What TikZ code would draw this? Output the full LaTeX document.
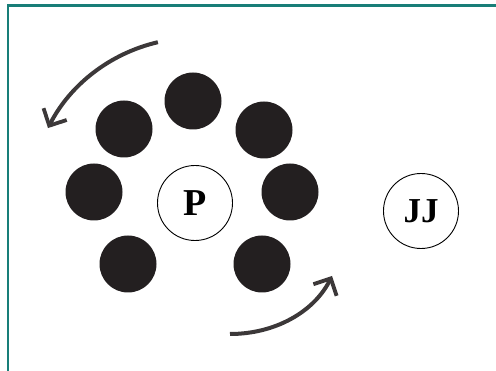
\documentclass[tikz,border=0pt]{standalone}
\usepackage{fontspec}
\setmainfont{Liberation Serif}
\usepackage{xcolor}
\usepackage{tikz}
\usetikzlibrary{arrows.meta, positioning}
\definecolor{frameteal}{RGB}{24,126,120}
\definecolor{balldark}{RGB}{35,31,32}
\definecolor{arrowgray}{RGB}{60,56,57}
\tikzset{
  ball/.style={circle, fill=balldark, draw=none, minimum size=57pt, inner sep=0pt},
  ring/.style={circle, draw=black, line width=0.9pt, fill=white,
    minimum size=75pt, inner sep=0pt, font=\fontsize{38}{38}\selectfont\bfseries},
  spin/.style={-{Straight Barb[length=13pt, width=26pt, line width=3.8pt]},
    line width=4pt, color=arrowgray}
}

\begin{document}
\begin{tikzpicture}[x=1pt, y=1pt]
  \useasboundingbox (0,0) rectangle (496,-371);

  % Frame (top and left edges only)
  \draw[frameteal, line width=2.2pt] (8,-371) -- (8,-5.5) -- (496,-5.5);

  % Centre and far ring
  \node[ring] (pcore) at (195,-203) {P};
  \node[ring, font=\fontsize{35}{35}\selectfont\bfseries] (jj) at (421,-211) {JJ};

  % Seven balls round the centre
  \foreach \name/\x/\y in {b1/193/-101, b2/124/-129, b3/264/-130, b4/94/-192,
                           b5/290/-192, b6/128/-264, b7/262/-264}
    \node[ball] (\name) at (\x,\y) {};

  % Rotation arrows
  \coordinate (topstart) at (157.9,-42.2);
  \coordinate (botstart) at (230,-334);
  \coordinate (botend) at (332,-276);
  \draw[spin] (topstart) arc[start angle=103, end angle=153, radius=165];
  \draw[spin] (botstart) .. controls (275,-334) and (314,-312) .. (botend);
\end{tikzpicture}
\end{document}
